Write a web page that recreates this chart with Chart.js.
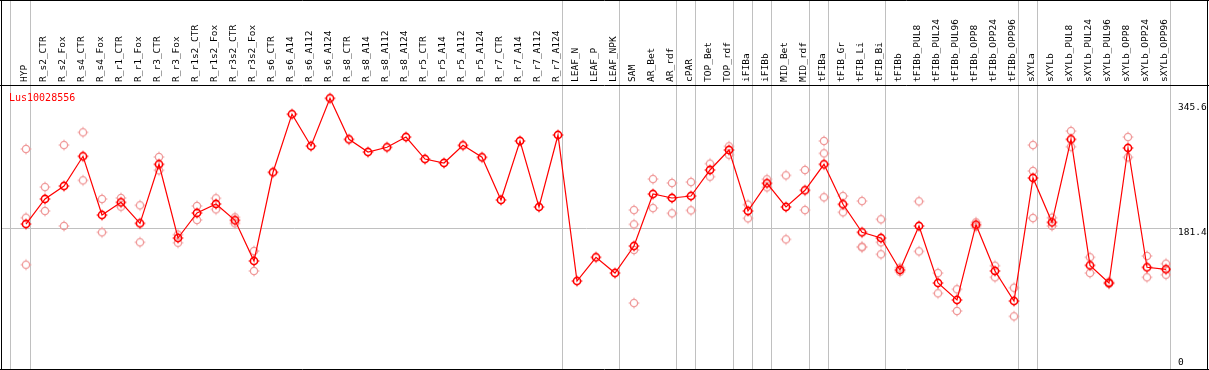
<!DOCTYPE html>
<html>
<head>
<meta charset="utf-8">
<script src="https://cdn.jsdelivr.net/npm/chart.js@4.4.1/dist/chart.umd.min.js"></script>
<style>
  html, body { margin: 0; padding: 0; background: #fff; }
  #wrap { width: 1209px; height: 370px; position: relative; }
</style>
</head>
<body>
<div id="wrap"><canvas id="c" width="1209" height="370"></canvas></div>
<script>
const seriesName = 'Lus10028556';
const categories = ['HYP','R_s2_CTR','R_s2_Fox','R_s4_CTR','R_s4_Fox','R_r1_CTR','R_r1_Fox','R_r3_CTR','R_r3_Fox','R_r1s2_CTR','R_r1s2_Fox','R_r3s2_CTR','R_r3s2_Fox','R_s6_CTR','R_s6_A14','R_s6_A112','R_s6_A124','R_s8_CTR','R_s8_A14','R_s8_A112','R_s8_A124','R_r5_CTR','R_r5_A14','R_r5_A112','R_r5_A124','R_r7_CTR','R_r7_A14','R_r7_A112','R_r7_A124','LEAF_N','LEAF_P','LEAF_NPK','SAM','AR_Bet','AR_rdf','cPAR','TOP_Bet','TOP_rdf','iFIBa','iFIBb','MID_Bet','MID_rdf','tFIBa','tFIB_Gr','tFIB_Li','tFIB_Bi','tFIBb','tFIBb_PUL8','tFIBb_PUL24','tFIBb_PUL96','tFIBb_OPP8','tFIBb_OPP24','tFIBb_OPP96','sXYLa','sXYLb','sXYLb_PUL8','sXYLb_PUL24','sXYLb_PUL96','sXYLb_OPP8','sXYLb_OPP24','sXYLb_OPP96'];

const meanValues = [187.1,220.0,237.0,276.1,198.9,215.6,188.0,265.6,168.7,201.6,213.4,192.0,138.5,255.1,331.5,289.6,352.3,298.4,281.7,287.9,301.4,272.5,267.3,290.5,274.8,218.7,296.2,209.5,304.1,112.2,143.4,122.7,158.2,226.5,221.3,223.9,258.1,284.4,204.2,240.6,209.5,231.4,265.6,213.0,176.2,168.7,126.7,184.5,109.6,87.3,186.2,125.4,85.9,247.6,189.3,298.4,132.8,109.6,287.0,130.2,127.6];

const rep1 = [285.7,235.7,290.9,307.6,220.0,221.3,211.7,275.2,173.1,210.8,220.9,195.9,151.6,null,null,null,null,null,null,null,null,null,null,null,null,null,null,null,null,null,null,null,205.5,246.2,241.0,242.3,266.4,289.2,212.5,245.9,251.1,258.1,296.2,223.9,217.3,193.3,129.7,216.9,122.7,101.3,189.3,132.3,103.4,290.9,195.4,309.3,143.4,111.3,301.4,145.1,135.0];
const rep2 = [195.4,204.2,184.5,244.5,176.2,209.9,163.1,257.7,162.5,192.4,206.4,188.0,125.4,null,null,null,null,null,null,null,null,null,null,null,null,null,null,null,null,null,null,null,186.7,208.1,201.2,205.1,249.3,278.2,194.6,235.3,167.0,205.5,280.0,202.5,157.3,163.1,124.4,151.2,96.1,72.8,183.6,117.1,65.8,256.8,184.5,288.7,122.7,108.3,274.8,117.1,120.5];
const rep3 = [133.6,null,null,null,null,null,null,null,null,null,null,null,null,null,null,null,null,null,null,null,null,null,null,null,null,null,null,null,null,null,null,null,153.0,null,null,null,null,null,null,null,null,null,222.2,null,156.5,147.3,null,null,null,null,null,null,null,195.0,null,null,null,null,null,null,null];
const rep4 = [null,null,null,null,null,null,null,null,null,null,null,null,null,null,null,null,null,null,null,null,null,null,null,null,null,null,null,null,null,null,null,null,83.3,null,null,null,null,null,null,null,null,null,null,null,null,null,null,null,null,null,null,null,null,null,null,null,null,null,null,null,null];

const yTickValues = [0, 181.4, 345.6];
const yTickLabels = ['0', '181.4', '345.6'];
const groupBounds = [-0.8, 0.24, 28.24, 31.24, 34.24, 35.24, 37.24, 38.24, 39.24, 41.24, 42.24, 45.24, 52.24, 53.24, 60.24];

function toPoints(arr) {
  const out = [];
  arr.forEach((v, i) => { if (v !== null) out.push({x: i, y: v}); });
  return out;
}

function makeMarker(color, lw) {
  const c = document.createElement('canvas');
  c.width = 14; c.height = 14;
  const g = c.getContext('2d');
  g.strokeStyle = color;
  g.fillStyle = color;
  g.lineWidth = lw;
  g.beginPath(); g.arc(7, 7, 3.6, 0, Math.PI * 2); g.stroke();
  g.fillRect(6.5, 1.6, 1, 1.4);
  g.fillRect(6.5, 11.0, 1, 1.4);
  g.fillRect(1.6, 6.5, 1.4, 1);
  g.fillRect(11.0, 6.5, 1.4, 1);
  return c;
}
const meanMarker = makeMarker('#ff0000', 1.6);
const repMarker = makeMarker('#f09a9a', 1.3);

const repDataset = (arr) => ({
  data: toPoints(arr),
  showLine: false,
  pointStyle: repMarker,
  pointRadius: 5,
  borderColor: '#f09a9a',
  backgroundColor: '#f09a9a'
});

const framePlugin = {
  id: 'frame',
  afterDraw(chart) {
    const ctx = chart.ctx;
    ctx.save();
    ctx.strokeStyle = '#000';
    ctx.lineWidth = 1;
    ctx.beginPath();
    ctx.moveTo(0, 0.5); ctx.lineTo(1209, 0.5);
    ctx.moveTo(0, 85.5); ctx.lineTo(1209, 85.5);
    ctx.moveTo(0, 369.5); ctx.lineTo(1209, 369.5);
    ctx.moveTo(1.5, 0); ctx.lineTo(1.5, 370);
    ctx.moveTo(1207.5, 0); ctx.lineTo(1207.5, 370);
    ctx.stroke();
    ctx.fillStyle = '#ff0000';
    ctx.font = '10px "DejaVu Sans Mono"';
    ctx.textBaseline = 'alphabetic';
    ctx.textAlign = 'left';
    ctx.fillText(seriesName, 9, 100.5);
    ctx.restore();
  }
};

const chart = new Chart(document.getElementById('c'), {
  type: 'line',
  data: {
    datasets: [
      {
        data: toPoints(meanValues),
        borderColor: '#ff0000',
        borderWidth: 1.2,
        pointStyle: meanMarker,
        pointRadius: 5,
        tension: 0,
        fill: false
      },
      repDataset(rep1),
      repDataset(rep2),
      repDataset(rep3),
      repDataset(rep4)
    ]
  },
  options: {
    responsive: false,
    animation: false,
    events: [],
    layout: { autoPadding: false, padding: { left: 2, right: 0, top: 0, bottom: 1 } },
    plugins: { legend: { display: false }, tooltip: { enabled: false }, title: { display: false } },
    scales: {
      x: {
        type: 'linear',
        position: 'top',
        weight: 1,
        min: -24 / 19,
        max: 1145 / 19,
        grid: { display: false, drawTicks: false },
        border: { display: false },
        afterBuildTicks(scale) { scale.ticks = categories.map((_, i) => ({ value: i })); },
        afterFit(scale) { scale.height = 85; scale.paddingLeft = 0; scale.paddingRight = 0; },
        ticks: {
          autoSkip: false,
          minRotation: 90,
          maxRotation: 90,
          padding: 3,
          labelOffset: 10.4,
          color: '#000',
          font: { family: '"DejaVu Sans Mono"', size: 9.5 },
          callback: (v) => categories[v] ?? ''
        }
      },
      x2: {
        type: 'linear',
        position: 'top',
        weight: 0,
        min: -24 / 19,
        max: 1145 / 19,
        grid: { display: true, color: '#c0c0c0', lineWidth: 1, drawTicks: true, tickLength: 85, tickColor: '#c0c0c0' },
        border: { display: false },
        afterBuildTicks(scale) { scale.ticks = groupBounds.map(v => ({ value: v })); },
        afterFit(scale) { scale.height = 0; scale.paddingLeft = 0; scale.paddingRight = 0; },
        ticks: { display: false, autoSkip: false }
      },
      y: {
        type: 'linear',
        position: 'right',
        min: -3.42,
        max: 369.78,
        border: { display: false },
        grid: {
          display: true,
          drawTicks: true,
          tickLength: 7,
          lineWidth: 1,
          color: (ctx) => (ctx.tick && ctx.tick.value === 181.4) ? '#c0c0c0' : 'rgba(0,0,0,0)',
          tickColor: (ctx) => (ctx.tick && ctx.tick.value === 181.4) ? '#c0c0c0' : 'rgba(0,0,0,0)'
        },
        afterBuildTicks(scale) { scale.ticks = yTickValues.map(v => ({ value: v })); },
        afterFit(scale) { scale.width = 38; scale.paddingTop = 0; scale.paddingBottom = 0; },
        ticks: {
          padding: 0,
          labelOffset: 4,
          color: '#000',
          font: { family: '"DejaVu Sans Mono"', size: 9.5, lineHeight: 1.7 },
          callback: (v) => {
            const i = yTickValues.indexOf(v);
            const t = i >= 0 ? yTickLabels[i] : '';
            return v === 0 ? [t, ''] : t;
          }
        }
      }
    }
  },
  plugins: [framePlugin]
});

// Fit the scale ranges to the laid-out chart area so that category i sits at x = 26 + 19*i
// and value v at y = 366.4 - 0.761*v, as in the reference.
function fitRanges() {
  const ca = chart.chartArea;
  const o = chart.options.scales;
  const xmin = (ca.left - 26) / 19, xmax = (ca.right - 26) / 19;
  o.x.min = xmin; o.x.max = xmax; o.x2.min = xmin; o.x2.max = xmax;
  o.y.min = (366.4 - ca.bottom) / 0.761; o.y.max = (366.4 - ca.top) / 0.761;
  o.x2.grid.tickLength = ca.top;
  chart.update();
}
fitRanges();
fitRanges();
</script>
</body>
</html>
